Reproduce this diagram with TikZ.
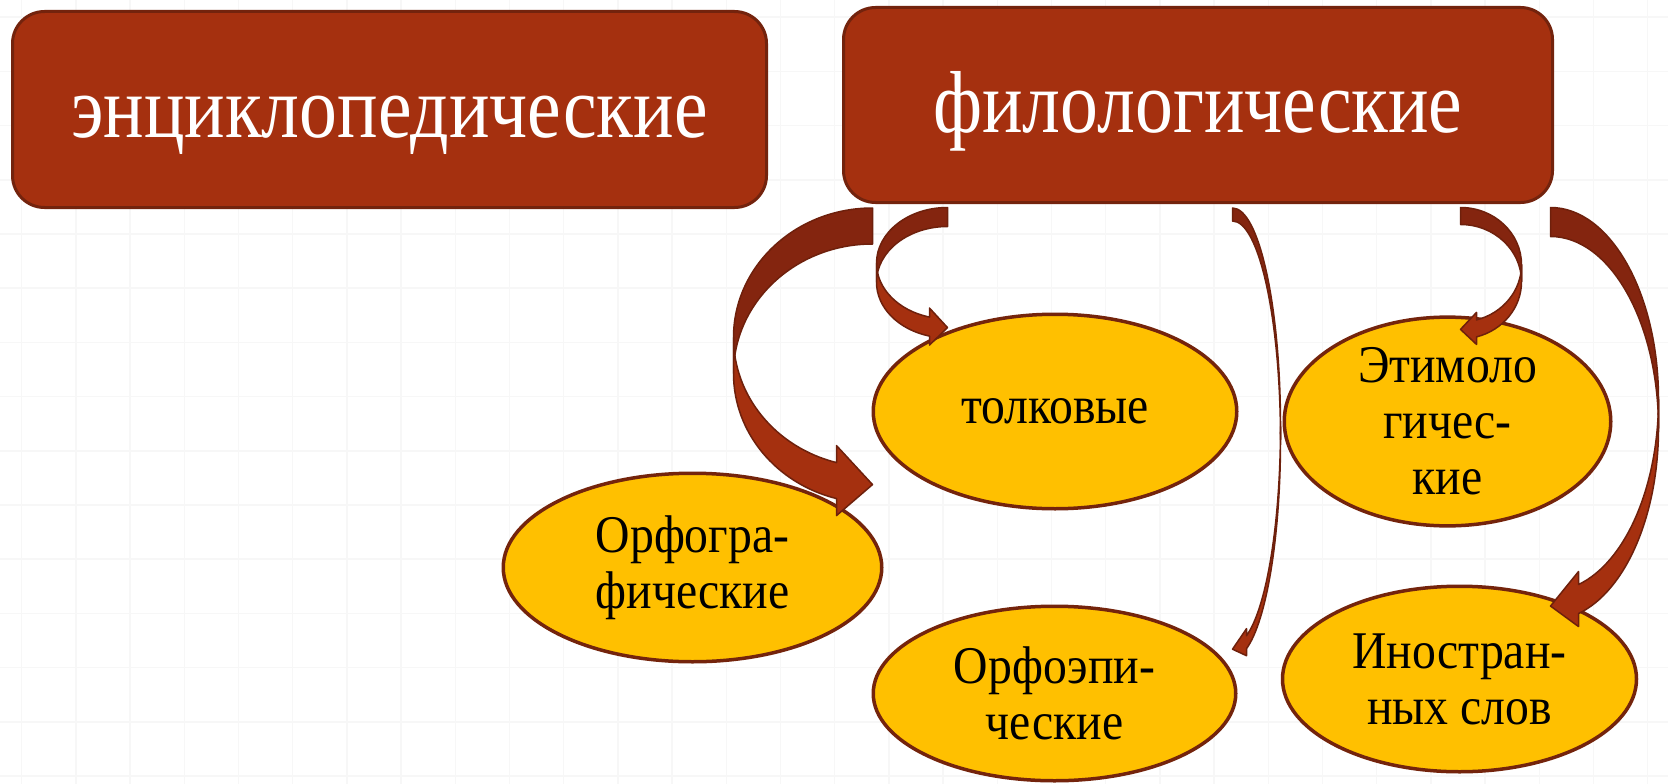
\documentclass[tikz,border=0pt]{standalone}
\usepackage{fontspec}
\setmainfont{Liberation Serif}
\newfontfamily\tallserif[FakeStretch=0.86]{Liberation Serif}
\newfontfamily\ovalserif[FakeStretch=0.9]{Liberation Serif}
\usetikzlibrary{shapes.geometric}

% curved ribbon arrow: #1 tail, #2 bend (1 left, -1 right), #3 x radius, #4 y radius,
% #5 thickness, #6 head length, #7 head overhang, #8 tip offset
\newcommand{\curvedarrow}[8]{%
  \begin{scope}[shift={(#1)},xscale=#2]
    \pgfmathsetmacro\arrowang{acos(-#6/#3)}
    \pgfmathsetmacro\arrowhy{#4+#4*sin(\arrowang)}
    \filldraw[arrow back] (0,0) arc[start angle=270,end angle=180,x radius=#3,y radius=#4]
      -- ++(0,#5) arc[start angle=180,end angle=270,x radius=#3,y radius=#4] -- cycle;
    \filldraw[arrow front] (-#3,#4) arc[start angle=180,end angle=\arrowang,x radius=#3,y radius=#4]
      -- (-#6,\arrowhy-#7) -- (0,\arrowhy+#5/2+#8) -- (-#6,\arrowhy+#5+#7)
      -- (-#6,\arrowhy+#5) arc[start angle=\arrowang,end angle=180,x radius=#3,y radius=#4] -- cycle;
  \end{scope}}

\begin{document}
\begin{tikzpicture}
[x=1pt,y=-1pt,line join=round,
% Styles
grid line/.style={black!3,line width=1.5pt},
header/.style={rectangle,rounded corners=32pt,fill=boxfill,draw=boxline,line width=3pt,
  text=white,font=\tallserif\fontsize{88}{92}\selectfont,text height=55pt,text depth=0pt,inner sep=0pt},
kind/.style={ellipse,fill=ovalfill,draw=ovalline,line width=3.5pt,inner sep=0pt,
  align=center,font=\ovalserif\fontsize{53}{56}\selectfont},
arrow back/.style={fill=arrowdark,draw=arrowline,line width=1.5pt},
arrow front/.style={fill=boxfill,draw=arrowline,line width=1.5pt}]
% Colors
\definecolor{boxfill}{HTML}{A5300F}
\definecolor{boxline}{HTML}{73230D}
\definecolor{ovalfill}{HTML}{FFC000}
\definecolor{ovalline}{HTML}{74240C}
\definecolor{arrowdark}{HTML}{84250F}
\definecolor{arrowline}{HTML}{6E200C}
% Background
\useasboundingbox (0,0) rectangle (1668,784);
\fill[white] (0,0) rectangle (1668,784);
\foreach \gx in {0,...,30}
  \draw[grid line] ({21.7+54.2*\gx},0) -- ++(0,784);
\foreach \gy in {0,...,14}
  \draw[grid line] (0,{17.2+54.2*\gy}) -- ++(1668,0);
% The two kinds
\node[header,minimum width=754,minimum height=196] (encycl) at (389.5,109.5) {энциклопедические};
\node[header,minimum width=709,minimum height=195] (philol) at (1198,105) {филологические};
% Dictionaries
\node[kind,minimum width=363.5,minimum height=194.5] (tolk) at (1055,411.5) {толковые};
\node[kind,minimum width=378.5,minimum height=188.5] (orfogr) at (692.5,567.5) {Орфогра-\\фические};
\node[kind,minimum width=362.5,minimum height=174.5] (orfoep) at (1054.5,693.5) {Орфоэпи-\\ческие};
\node[kind,minimum width=326.5,minimum height=190.5] (etym) at (1447.5,421.5) {Этимоло\\гичес-\\кие};
\node[kind,minimum width=354,minimum height=185.5] (inostr) at (1459.5,679) {Иностран-\\ных слов};
% Arrows
\coordinate (tail1) at ([shift={(30.5,4)}]philol.south west);
\coordinate (tail2) at ([shift={(105.5,3.5)}]philol.south west);
\coordinate (tail3) at ([shift={(390.5,4)}]philol.south west);
\coordinate (tail4) at ([shift={(618.5,3.5)}]philol.south west);
\coordinate (tail5) at ([shift={(708.5,3.5)}]philol.south west);
\curvedarrow{tail1}{1}{139}{129.5}{36}{36}{17}{4}
\curvedarrow{tail2}{1}{71}{55.7}{19}{18}{9}{1}
\curvedarrow{tail3}{-1}{48}{218.6}{13}{14}{7}{7}
\curvedarrow{tail4}{-1}{61}{57.2}{17}{16}{7.5}{1}
\curvedarrow{tail5}{-1}{108}{191.8}{29}{28}{13}{7}
\end{tikzpicture}
\end{document}
